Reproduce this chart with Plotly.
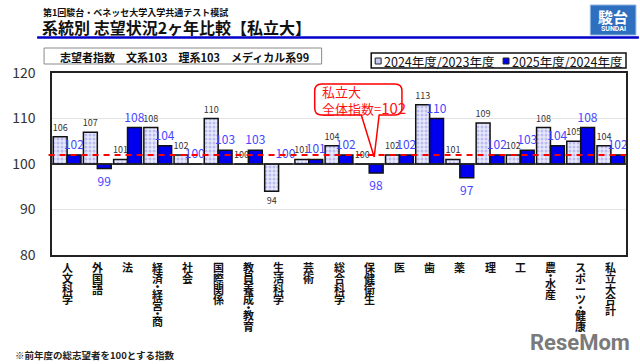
import plotly.graph_objects as go

categories = ["人文科学", "外国語", "法", "経済・経営・商", "社会", "国際関係", "教員養成・教育",
              "生活科学", "芸術", "総合科学", "保健衛生", "医", "歯", "薬", "理", "工",
              "農・水産", "スポーツ・健康", "私立大合計"]
idx_2024_2023 = [106, 107, 101, 108, 102, 110, 100, 94, 101, 104, 100, 102, 113, 101, 109, 102, 108, 105, 104]
idx_2025_2024 = [102, 99, 108, 104, 100, 103, 103, 100, 101, 102, 98, 102, 110, 97, 102, 103, 104, 108, 102]
series_names = ["2024年度/2023年度", "2025年度/2024年度"]
base_index = 100
overall_index = 102
y_ticks = [80, 90, 100, 110, 120]

FONT = "Noto Sans CJK JP"
W, H = 640, 364
L, R, T, B = 48, 13, 73, 109
PW, PH = W - L - R, H - T - B


def px(x):
    return (x - L) / PW


def py(y):
    return (H - B - y) / PH


def note(x, y, text, size, color="#111111", xanchor="left", bold=False, family=FONT, align="left"):
    f = dict(family=family, size=size, color=color)
    if bold:
        f["weight"] = "bold"
    return dict(x=px(x), y=py(y), xref="paper", yref="paper", xanchor=xanchor, yanchor="middle",
                align=align, showarrow=False, text=text, font=f)


fig = go.Figure()
fig.add_trace(go.Bar(
    x=categories, y=[v - base_index for v in idx_2024_2023], base=base_index,
    name=series_names[0],
    marker=dict(color="#eceefc", line=dict(color="#111111", width=1.5),
                pattern=dict(shape=".", fgcolor="#8c8ce6", bgcolor="#e8eafc", size=4, solidity=0.45)),
    text=[str(v) for v in idx_2024_2023], textposition="outside", constraintext="none",
    textfont=dict(family=FONT, size=9, color="#333333"), cliponaxis=False,
))
fig.add_trace(go.Bar(
    x=categories, y=[v - base_index for v in idx_2025_2024], base=base_index,
    name=series_names[1],
    marker=dict(color="#0000ee", line=dict(color="#111111", width=1.5)),
    text=[str(v) for v in idx_2025_2024], textposition="outside", constraintext="none",
    textfont=dict(family=FONT, size=12, color="#4646ff"), cliponaxis=False,
))

shapes = []
annotations = []

# baseline 100 and overall dashed line
shapes.append(dict(type="line", xref="paper", yref="y", x0=0, x1=1, y0=base_index, y1=base_index,
                   line=dict(color="#222222", width=1.5), layer="above"))
shapes.append(dict(type="line", xref="paper", yref="y", x0=-0.006, x1=1, y0=overall_index, y1=overall_index,
                   line=dict(color="#ff0000", width=2, dash="6px,5px"), layer="above"))

# vertical category labels
for cat in categories:
    off = 7
    for ch in cat:
        h = 5.5 if ch == "・" else 10.6
        annotations.append(dict(x=cat, xref="x", y=0, yref="paper", yanchor="middle", xanchor="center",
                                yshift=-(off + h / 2), text=ch, showarrow=False,
                                font=dict(family=FONT, size=11, color="#111111", weight="bold")))
        off += h

# callout
cl, cr, ct, cb, rad = 313, 401, 84, 115, 7
wl, wr, tipx, tipy = 360, 378, 373, 157
pts = (f"M {px(cl+rad)},{py(ct)} L {px(cr-rad)},{py(ct)} Q {px(cr)},{py(ct)} {px(cr)},{py(ct+rad)} "
       f"L {px(cr)},{py(cb-rad)} Q {px(cr)},{py(cb)} {px(cr-rad)},{py(cb)} L {px(wr)},{py(cb)} "
       f"L {px(tipx)},{py(tipy)} L {px(wl)},{py(cb)} L {px(cl+rad)},{py(cb)} "
       f"Q {px(cl)},{py(cb)} {px(cl)},{py(cb-rad)} L {px(cl)},{py(ct+rad)} Q {px(cl)},{py(ct)} {px(cl+rad)},{py(ct)} Z")
shapes.append(dict(type="path", xref="paper", yref="paper", path=pts, fillcolor="white",
                   line=dict(color="#ff0000", width=1.5), layer="above"))
annotations.append(note(318, 100, f"私立大<br>全体指数=<span style='font-size:15px'>{overall_index}</span>",
                        13, color="#ff1010"))

# info box
shapes.append(dict(type="rect", xref="paper", yref="paper", x0=px(40), x1=px(320), y0=py(64), y1=py(48),
                   line=dict(color="#8a8a8a", width=1), fillcolor="white", layer="below"))
annotations.append(note(182, 56.5, "志望者指数　文系103　理系103　メディカル系99", 11,
                        xanchor="center", bold=True))

# legend box
shapes.append(dict(type="rect", xref="paper", yref="paper", x0=px(370), x1=px(627), y0=py(68), y1=py(53),
                   line=dict(color="#111111", width=1.5), fillcolor="white", layer="below"))
shapes.append(dict(type="rect", xref="paper", yref="paper", x0=px(374), x1=px(380), y0=py(64), y1=py(58),
                   line=dict(color="#222222", width=1), fillcolor="#c8ccf4"))
shapes.append(dict(type="rect", xref="paper", yref="paper", x0=px(503), x1=px(509), y0=py(64), y1=py(58),
                   line=dict(color="#222222", width=1), fillcolor="#0000ee"))
annotations.append(note(381, 61, series_names[0], 12.5))
annotations.append(note(510, 61, series_names[1], 12.5))

# titles
annotations.append(note(37, 12.5, "第1回駿台・ベネッセ大学入学共通テスト模試", 9, bold=True))
annotations.append(note(36, 27, "系統別 志望状況2ヶ年比較【私立大】", 16, bold=True))
shapes.append(dict(type="line", xref="paper", yref="paper", x0=px(33), x1=px(640), y0=py(37.5), y1=py(37.5),
                   line=dict(color="#0000cc", width=2.5)))

# logo
shapes.append(dict(type="rect", xref="paper", yref="paper", x0=px(591), x1=px(637), y0=py(35), y1=py(5),
                   line=dict(color="#8fb4e0", width=1), fillcolor="#2f6fc0", layer="below"))
annotations.append(note(614, 16, "駿台", 15, color="white", xanchor="center", bold=True))
annotations.append(note(614, 29.5, "SUNDAI", 7, color="white", xanchor="center", bold=True, family="Roboto"))

# footnote and watermark
annotations.append(note(9, 355, "※前年度の総志望者を100とする指数", 9.5, color="#222222", bold=True))
annotations.append(note(633, 342, "ReseMom", 22, color="#7a7a7a", xanchor="right", bold=True, family="Roboto"))

fig.update_layout(
    width=W, height=H, margin=dict(l=L, r=R, t=T, b=B),
    paper_bgcolor="white", plot_bgcolor="white",
    barmode="group", bargap=0.08, bargroupgap=0,
    showlegend=False, shapes=shapes, annotations=annotations,
    font=dict(family=FONT),
    xaxis=dict(showticklabels=False, ticks="", showline=True, mirror=True, linecolor="#222222", linewidth=1.5,
               showgrid=False),
    yaxis=dict(range=[80, 120], tickvals=y_ticks, showline=True, mirror=True, linecolor="#222222",
               linewidth=1.5, gridcolor="#e3e3e3", gridwidth=1, zeroline=False,
               tickfont=dict(family=FONT, size=14, color="#333333"), ticklabelstandoff=12),
)

fig.write_html("out.html", config={"displayModeBar": False},
               post_script="document.body.style.margin='0';document.body.style.overflow='hidden';")
